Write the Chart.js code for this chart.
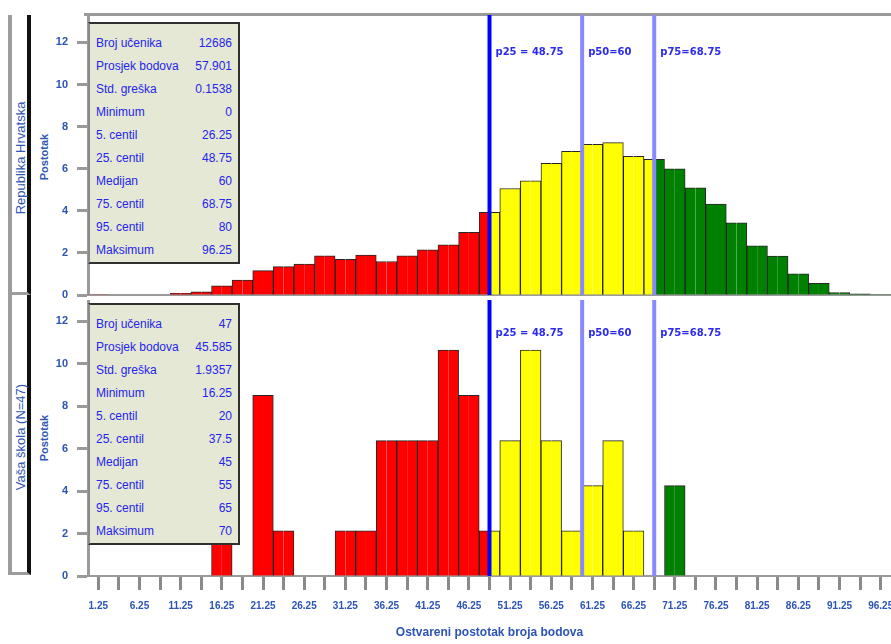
<!DOCTYPE html>
<html>
<head>
<meta charset="utf-8">
<script src="https://cdn.jsdelivr.net/npm/chart.js@4.4.1/dist/chart.umd.min.js"></script>
<style>
  html, body { margin: 0; padding: 0; background: #fff; }
  #wrap { position: relative; width: 891px; height: 644px; overflow: hidden; font-family: "Liberation Sans", Arial, sans-serif; }
  canvas { position: absolute; left: 0; }
  #cTop { top: 0; }
  #cBottom { top: 300px; }
  .side { position: absolute; left: 8px; width: 15px; border-left: 4px solid #9c9c9c; border-right: 4px solid #111; border-bottom: 3px solid #9c9c9c; }
  .vlab { position: absolute; transform: translate(-50%, -50%) rotate(-90deg); white-space: nowrap; color: #2f57b5; }
  .stats { position: absolute; left: 88px; width: 148px; background: #e5e8d4; border: 2px solid #303030; border-left-color: #8a8a8a; padding-top: 8px; box-sizing: content-box; }
  .row { display: flex; justify-content: space-between; height: 23px; line-height: 23px; padding: 0 6px 0 6px; color: #2424ee; font-size: 12px; }
</style>
</head>
<body>
<div id="wrap">
  <div class="side" style="top:15px;height:277px;"></div>
  <div class="side" style="top:295px;height:277px;"></div>
  <div class="vlab" style="left:20px;top:158px;font-size:13px;">Republika Hrvatska</div>
  <div class="vlab" style="left:20px;top:437px;font-size:13px;">Vaša škola (N=47)</div>
  <div class="vlab" style="left:44px;top:157px;font-size:11px;font-weight:bold;">Postotak</div>
  <div class="vlab" style="left:44px;top:438px;font-size:11px;font-weight:bold;">Postotak</div>
  <canvas id="cTop" width="891" height="300"></canvas>
  <canvas id="cBottom" width="891" height="344"></canvas>
  <div class="stats" id="statsTop" style="top:22px;"></div>
  <div class="stats" id="statsBottom" style="top:303px;"></div>
</div>
<script>
// Score bins are 2.5 percentage points wide; the axis shows 0 – 97.5
const binWidth = 2.5;
const xMax = 97.5;

// Share of students (%) in each score bin, national results
const nationalPct = [0.01, 0, 0, 0, 0.08, 0.15, 0.43, 0.71, 1.16, 1.35, 1.47, 1.86, 1.70,
  1.90, 1.59, 1.86, 2.14, 2.38, 2.98, 3.93, 5.06, 5.42, 6.25, 6.83, 7.16, 7.24,
  6.59, 6.44, 5.99, 5.09, 4.32, 3.43, 2.34, 1.85, 1.00, 0.55, 0.12, 0.05, 0.01];

// Share of students (%) in each score bin, school results
const schoolPct = [0, 0, 0, 0, 0, 0, 2.13, 0, 8.51, 2.13, 0, 0, 2.13,
  2.13, 6.38, 6.38, 6.38, 10.64, 8.51, 2.13, 6.38, 10.64, 6.38, 2.13, 4.26, 6.38,
  2.13, 0, 4.26, 0, 0, 0, 0, 0, 0, 0, 0, 0, 0];

// National quartiles drawn as reference lines on both panels
const percentileValues = [48.75, 60, 68.75];
const percentileLabels = ['p25 = 48.75', 'p50=60', 'p75=68.75'];
const percentileColors = ['#0000ff', '#8888ff', '#8888ff'];

// Axis ticks
const yTicks = [0, 2, 4, 6, 8, 10, 12];
const xTickLabels = ['1.25', '6.25', '11.25', '16.25', '21.25', '26.25', '31.25', '36.25',
  '41.25', '46.25', '51.25', '56.25', '61.25', '66.25', '71.25', '76.25', '81.25',
  '86.25', '91.25', '96.25'];
const xTitle = 'Ostvareni postotak broja bodova';

// Summary statistics
const statLabels = ['Broj učenika', 'Prosjek bodova', 'Std. greška', 'Minimum', '5. centil',
  '25. centil', 'Medijan', '75. centil', '95. centil', 'Maksimum'];
const statsNational = ['12686', '57.901', '0.1538', '0', '26.25', '48.75', '60', '68.75', '80', '96.25'];
const statsSchool = ['47', '45.585', '1.9357', '16.25', '20', '37.5', '45', '55', '65', '70'];

function fillStats(id, values) {
  const box = document.getElementById(id);
  statLabels.forEach((lab, i) => {
    const r = document.createElement('div');
    r.className = 'row';
    const a = document.createElement('span'); a.textContent = lab;
    const b = document.createElement('span'); b.textContent = values[i];
    r.appendChild(a); r.appendChild(b);
    box.appendChild(r);
  });
}
fillStats('statsTop', statsNational);
fillStats('statsBottom', statsSchool);

// Each bin is split into two halves so a bin crossing a quartile can change colour mid-bar
function halfBins(values) {
  const pts = [];
  values.forEach((v, i) => {
    pts.push({ x: i * binWidth + binWidth / 4, y: v });
    pts.push({ x: i * binWidth + 3 * binWidth / 4, y: v });
  });
  return pts;
}
const binCenters = nationalPct.map((_, i) => i * binWidth + binWidth / 2);

function barColor(ctx) {
  const x = ctx.raw ? ctx.raw.x : 0;
  if (x < percentileValues[0]) return '#ff0000';
  if (x < percentileValues[2]) return '#ffff00';
  return '#008000';
}
function barBorder(ctx) {
  return ctx.dataIndex % 2 === 0
    ? { left: 1, top: 1, right: 0, bottom: 0 }
    : { left: 0, top: 1, right: 1, bottom: 0 };
}

const pctLines = {
  id: 'pctLines',
  afterDatasetsDraw(chart, args, opts) {
    const { ctx, chartArea, scales } = chart;
    percentileValues.forEach((v, i) => {
      const px = scales.x.getPixelForValue(v);
      ctx.save();
      ctx.strokeStyle = percentileColors[i];
      ctx.lineWidth = 4;
      ctx.beginPath();
      ctx.moveTo(px, chartArea.top);
      ctx.lineTo(px, chartArea.bottom);
      ctx.stroke();
      ctx.fillStyle = '#2a2af0';
      ctx.font = 'bold 10px "DejaVu Sans", sans-serif';
      ctx.textBaseline = 'middle';
      ctx.fillText(percentileLabels[i], px + 6, chartArea.top + opts.labelOffset);
      ctx.restore();
    });
  }
};

const frame = {
  id: 'frame',
  beforeDatasetsDraw(chart, args, opts) {
    const { ctx, chartArea } = chart;
    ctx.save();
    ctx.fillStyle = '#9a9a9a';
    if (opts.topLine) ctx.fillRect(84, chartArea.top - 2, chart.width - 84, 3);
    if (opts.baseLine) ctx.fillRect(chartArea.left, chartArea.bottom - 1, chartArea.width, 2);
    ctx.restore();
  }
};

function yAxis(max) {
  return {
    min: 0, max: max,
    afterBuildTicks: s => { s.ticks = yTicks.map(v => ({ value: v })); },
    afterFit: s => { s.width = 88; s.paddingTop = 0; s.paddingBottom = 0; },
    grid: { drawOnChartArea: false, tickLength: 11, tickWidth: 3, color: '#9a9a9a' },
    border: { color: '#9a9a9a', width: 3 },
    ticks: { font: { weight: 'bold', size: 11 }, color: '#2c54b4', padding: 9 }
  };
}

function dataset(values) {
  return {
    data: halfBins(values),
    backgroundColor: barColor,
    borderColor: 'rgba(0,0,0,0.85)',
    borderWidth: barBorder,
    borderSkipped: 'bottom',
    barPercentage: 1,
    categoryPercentage: 1
  };
}

new Chart(document.getElementById('cTop'), {
  type: 'bar',
  data: { datasets: [dataset(nationalPct)] },
  options: {
    animation: false, responsive: false, devicePixelRatio: 1,
    layout: { padding: { top: 15, bottom: 5, left: 0, right: 0 } },
    plugins: {
      legend: { display: false }, tooltip: { enabled: false },
      pctLines: { labelOffset: 37 },
      frame: { topLine: true, baseLine: true }
    },
    scales: {
      x: { type: 'linear', min: 0, max: xMax, offset: false, display: false },
      y: yAxis(13.3)
    }
  },
  plugins: [frame, pctLines]
});

new Chart(document.getElementById('cBottom'), {
  type: 'bar',
  data: { datasets: [dataset(schoolPct)] },
  options: {
    animation: false, responsive: false, devicePixelRatio: 1,
    layout: { padding: 0 },
    plugins: {
      legend: { display: false }, tooltip: { enabled: false },
      pctLines: { labelOffset: 33 },
      frame: { topLine: false, baseLine: false }
    },
    scales: {
      x: {
        type: 'linear', min: 0, max: xMax, offset: false,
        afterBuildTicks: s => { s.ticks = binCenters.map(v => ({ value: v })); },
        afterFit: s => { s.height = 68; s.paddingLeft = 0; s.paddingRight = 0; },
        ticks: {
          autoSkip: false, maxRotation: 0, minRotation: 0,
          callback: (val, idx) => (idx % 2 === 0 ? xTickLabels[idx / 2] : ''),
          font: { weight: 'bold', size: 10 }, color: '#2c54b4', padding: 10
        },
        grid: { drawOnChartArea: false, tickLength: 14, tickWidth: 3, color: '#8a8a8a', offset: false },
        border: { color: '#9a9a9a', width: 2 },
        title: { display: true, text: xTitle, font: { weight: 'bold', size: 12 }, color: '#2c54b4', padding: { top: 0, bottom: 4 } }
      },
      y: yAxis(13)
    }
  },
  plugins: [frame, pctLines]
});
</script>
</body>
</html>
